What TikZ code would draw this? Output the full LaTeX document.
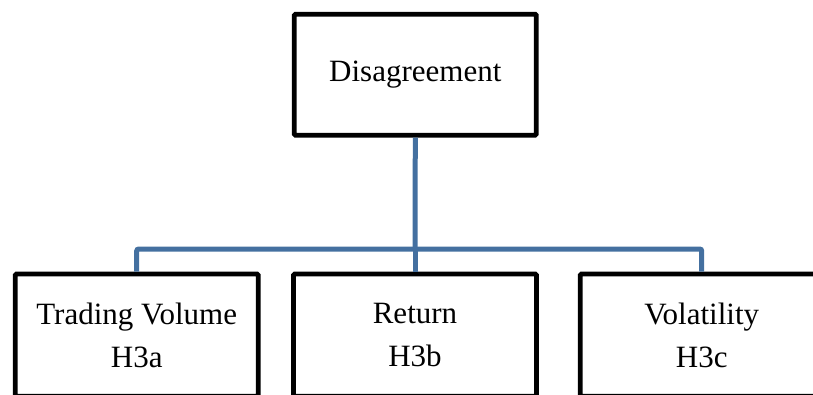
\documentclass[tikz,border=0pt]{standalone}
\usepackage{fontspec}
\setmainfont{Liberation Serif}
\begin{document}
\begin{tikzpicture}[x=1pt,y=-1pt,
  box/.style={draw=black, line width=4.8pt, rounded corners=1.2pt, fill=white,
    inner sep=0pt, align=center, font=\fontsize{31}{43}\selectfont},
  link/.style={draw=linkblue, line width=5pt, rounded corners=2pt}]
  \definecolor{linkblue}{RGB}{68,112,160}
  \useasboundingbox (0,0) rectangle (813,394);
  \clip (0,0) rectangle (813,394);

  % parent box
  \node[box, minimum width=242pt, minimum height=121pt] (top) at (415.3,74.7) {Disagreement};

  % child boxes (their lower edges run off the page)
  \node[box, minimum width=243pt, minimum height=122.2pt] (tv)  at (136.7,335.1) {Trading Volume\\H3a};
  \node[box, minimum width=243pt, minimum height=122.2pt] (ret) at (415.0,335.1) {Return\\H3b};
  \node[box, minimum width=243pt, minimum height=122.2pt] (vol) at (701.7,335.1) {Volatility\\H3c};

  % bus line
  \coordinate (bus) at (415.0,249);
  \draw[link] (top.south) -- (bus);
  \draw[link] (tv.north) -- (tv.north |- bus) -- (vol.north |- bus) -- (vol.north);
  \draw[link] (bus) -- (ret.north);
\end{tikzpicture}
\end{document}
